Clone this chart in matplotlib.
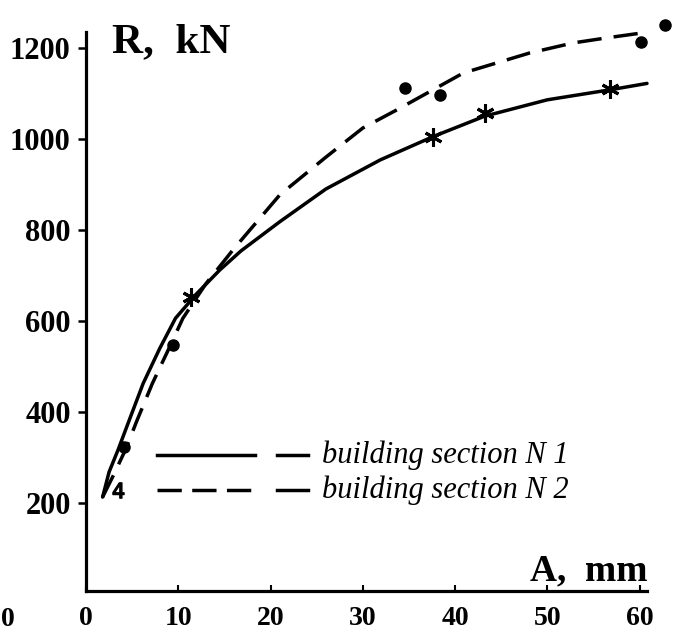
import matplotlib
matplotlib.use("Agg")
import matplotlib.pyplot as plt
from matplotlib.lines import Line2D

# ---- data ----
x_ticks = [0, 10, 20, 30, 40, 50, 60]
y_ticks = [200, 400, 600, 800, 1000, 1200]

# curve 1 (solid) - building section N 1
c1_x = [1.8, 2.5, 3.5, 4.5, 6.2, 8.0, 9.7, 12.0, 14.5, 16.8, 21.0, 26.0, 31.9, 37.6, 43.2, 50.0, 56.8, 60.8]
c1_y = [213, 268, 318, 372, 463, 540, 606, 660, 712, 754, 818, 890, 954, 1005, 1050, 1086, 1108, 1122]
# curve 2 (dashed) - building section N 2
c2_x = [1.8, 3.0, 4.3, 5.5, 7.2, 9.0, 10.5, 13.0, 16.0, 21.0, 26.0, 30.0, 33.7, 40.9, 48.1, 52.8, 56.4, 61.0]
c2_y = [213, 262, 318, 380, 463, 540, 606, 682, 758, 877, 960, 1024, 1064, 1145, 1189, 1211, 1222, 1235]

# measured points
n1_x = [11.35, 37.6, 43.2, 56.8]          # asterisks, section N 1
n1_y = [653, 1005, 1057, 1110]
n2_x = [4.1, 9.4, 34.6, 38.4, 60.2, 62.7]  # dots, section N 2
n2_y = [323, 547, 1112, 1097, 1213, 1250]
extra_x = [3.5]                            # small triangular mark at the start
extra_y = [228]

legend_labels = ["building section N 1", "building section N 2"]

# ---- figure ----
W, H = 687, 635
fig = plt.figure(figsize=(W / 100, H / 100), dpi=100)

def fx(px):
    return px / W

def fy(py):
    return (H - py) / H

left, right, top, bottom = 86, 647, 32, 591
ax = fig.add_axes([fx(left), fy(bottom), fx(right - left), (bottom - top) / H])
ax.set_xlim(0, 60.8)
ax.set_ylim(6.6, 1235)

for s in ("top", "right"):
    ax.spines[s].set_visible(False)
for s in ("left", "bottom"):
    ax.spines[s].set_linewidth(2.3)
    ax.spines[s].set_color("black")

serif = ["Liberation Serif", "DejaVu Serif"]

ax.set_xticks(x_ticks)
ax.set_yticks(y_ticks)
ax.tick_params(axis="y", direction="out", length=6, width=1.8, pad=5)
ax.tick_params(axis="x", direction="in", length=4, width=1.5, pad=11)
for lab in ax.get_yticklabels():
    lab.set_fontfamily(serif)
    lab.set_fontweight("bold")
    lab.set_fontsize(22)
for lab in ax.get_xticklabels():
    lab.set_fontfamily(serif)
    lab.set_fontweight("bold")
    lab.set_fontsize(20)

lw = 2.5
ax.plot(c1_x, c1_y, color="black", lw=lw, solid_capstyle="round", clip_on=False)
ax.plot(c2_x, c2_y, color="black", lw=lw, linestyle=(0, (7, 3.5)), clip_on=False)

ax.plot(n1_x, n1_y, linestyle="none", marker=(6, 2, 0), markersize=13,
        markeredgewidth=2.2, color="black", clip_on=False)
ax.plot(n2_x, n2_y, linestyle="none", marker="o", markersize=8,
        color="black", clip_on=False)
ax.plot(extra_x, extra_y, linestyle="none", marker="$4$", markersize=11,
        color="black", clip_on=False)

# axis titles
fig.text(fx(112), fy(52), "R,  kN", fontfamily=serif, fontweight="bold",
         fontsize=31, ha="left", va="baseline")
fig.text(fx(647), fy(580), "A,  mm", fontfamily=serif, fontweight="bold",
         fontsize=27, ha="right", va="baseline")
# stray label at the left border of the scan
fig.text(fx(1), fy(620), "0", fontfamily=serif, fontweight="bold",
         fontsize=20, ha="left", va="center")

# hand-drawn style legend
ly = [455, 490]
fig.add_artist(Line2D([fx(157), fx(255)], [fy(ly[0])] * 2, color="black", lw=lw,
                      transform=fig.transFigure))
fig.add_artist(Line2D([fx(157), fx(253)], [fy(ly[1])] * 2, color="black", lw=lw,
                      linestyle=(0, (7, 3)), transform=fig.transFigure))
for yy in ly:
    fig.add_artist(Line2D([fx(277), fx(308)], [fy(yy)] * 2, color="black", lw=lw,
                          transform=fig.transFigure))
for yy, lab in zip(ly, legend_labels):
    fig.text(fx(322), fy(yy), lab, fontfamily=serif, fontstyle="italic",
             fontsize=22, ha="left", va="center")

fig.savefig("out.png", dpi=100)
